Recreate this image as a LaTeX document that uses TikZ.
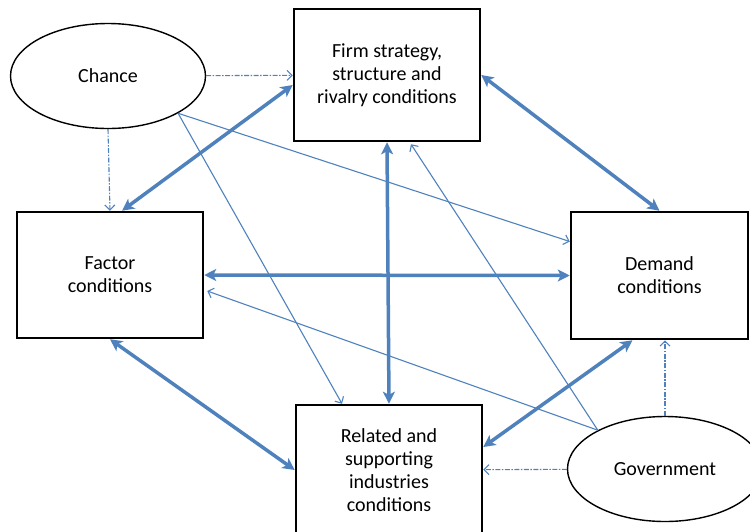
\documentclass[tikz,border=0pt]{standalone}
\usepackage{fontspec}
\setmainfont{Carlito}
\usepackage{xcolor}
\usetikzlibrary{shapes,arrows.meta}
\usetikzlibrary{calc}
\definecolor{arrowblue}{RGB}{79,129,189}

\begin{document}
\begin{tikzpicture}[x=1pt, y=-1pt,
	box_node/.style={rectangle,draw,line width=2.5pt,align=center,font=\fontsize{20}{23}\selectfont},
	oval_node/.style={ellipse,draw,line width=1.4pt,minimum width=195pt,minimum height=105pt,font=\fontsize{20}{23}\selectfont},
	thick_arrow/.style={arrowblue,line width=3.5pt,{Stealth[length=12pt,width=12pt,inset=3pt]}-{Stealth[length=12pt,width=12pt,inset=3pt]}},
	thin_arrow/.style={arrowblue,line width=1.1pt,-{Straight Barb[length=5pt,width=10pt]}},
	dash_arrow/.style={thin_arrow,dash pattern=on 5pt off 1.5pt on 1.5pt off 1.5pt}]
	
	\useasboundingbox (0,0) rectangle (750,531);
	
	\node[oval_node] (chance) at (108, 76) {Chance};
	\node[box_node,minimum width=186pt,minimum height=132pt] (firm) at (387, 75) {Firm strategy,\\structure and\\rivalry conditions};
	\node[box_node,minimum width=186pt,minimum height=126pt] (factor) at (110, 275) {Factor\\conditions};
	\node[box_node,minimum width=177pt,minimum height=127pt] (demand) at (659.5, 275.5) {Demand\\conditions};
	\node[box_node,minimum width=186pt,minimum height=130pt] (related) at (389, 470) {Related and\\supporting\\industries\\conditions};
	\node[oval_node] (government) at (665, 469) {Government};
	
	% influence of chance
	\draw[dash_arrow] (chance) -- (firm);
	\draw[dash_arrow] (chance.south) -- (factor.north);
	\draw[thin_arrow] (chance.-28) -- ($(demand.west)+(0,-34)$);
	\draw[thin_arrow] (chance.-28) -- ($(related.north)+(-47,0)$);
	
	% the diamond
	\draw[thick_arrow] ($(firm.west)+(0,10)$) -- ($(factor.north)+(12,0)$);
	\draw[thick_arrow] (firm.east) -- (demand.north);
	\draw[thick_arrow] (firm.south) -- (related.north);
	\draw[thick_arrow] (factor.east) -- (demand.west);
	\draw[thick_arrow] (factor.south) -- (related.west);
	\draw[thick_arrow] ($(demand.south)+(-27,0)$) -- ($(related.east)+(0,-23)$);
	
	% influence of government
	\draw[dash_arrow] (government) -- (related);
	\draw[dash_arrow] (government.north) -- (government.north |- demand.south);
	\draw[thin_arrow] (government.150) -- ($(factor.east)+(3,16)$);
	\draw[thin_arrow] (government.150) -- ($(firm.south)+(24,2)$);
\end{tikzpicture}
\end{document}
